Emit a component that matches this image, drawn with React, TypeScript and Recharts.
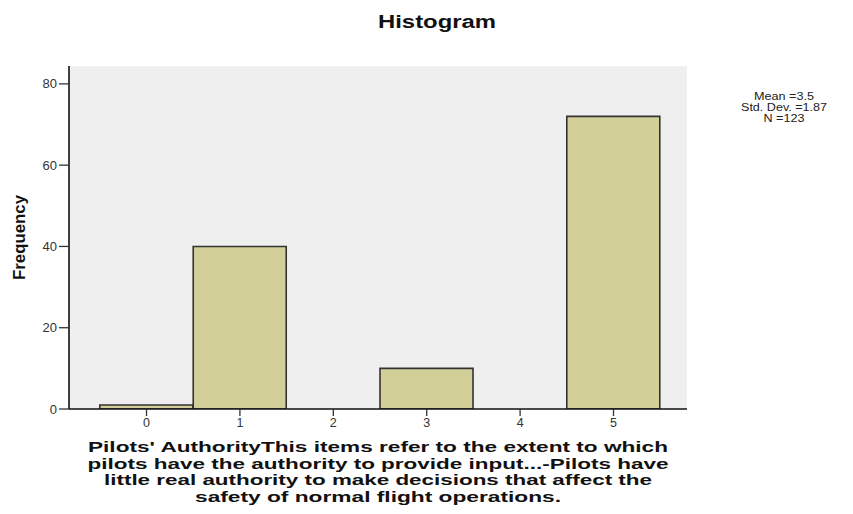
import React from "react";
import { ComposedChart, Bar, XAxis, YAxis, CartesianGrid } from "recharts";

const bins = [0, 1, 2, 3, 4, 5];
const frequencies = [1, 40, 0, 10, 0, 72];
const yTicks = [0, 20, 40, 60, 80];
const titleText = "Histogram";
const yLabelText = "Frequency";
const statsLines = ["Mean =3.5", "Std. Dev. =1.87", "N =123"];
const xLabelLines = [
  "Pilots' AuthorityThis items refer to the extent to which",
  "pilots have the authority to provide input...-Pilots have",
  "little real authority to make decisions that affect the",
  "safety of normal flight operations.",
];

const data = bins.map((b, i) => ({ bin: b, freq: frequencies[i] }));

const FONT = "'Liberation Sans', Arial, Helvetica, sans-serif";
const xLabelLengths = [580, 581, 548, 366];
const statsLengths = [60, 86, 41];

export default function App() {
  return (
    <div style={{ position: "absolute", left: 0, top: 0, width: 853, height: 514, background: "#fff", fontFamily: FONT }}>
      <ComposedChart
        width={853}
        height={514}
        data={data}
        margin={{ top: 66, right: 166, bottom: 0, left: 0 }}
        barCategoryGap={0}
        barGap={0}
      >
        <CartesianGrid fill="#efefef" horizontal={false} vertical={false} />
        <XAxis
          dataKey="bin"
          type="number"
          domain={[-0.83, 5.787]}
          allowDataOverflow
          ticks={bins}
          tickSize={7}
          height={105}
          axisLine={{ stroke: "#111", strokeWidth: 1.6 }}
          tickLine={{ stroke: "#333", strokeWidth: 1.3 }}
          tick={{ fill: "#333", fontSize: 12.5, fontFamily: FONT }}
        />
        <XAxis xAxisId="top" orientation="top" type="number" domain={[-0.83, 5.787]} height={0} tick={false} tickLine={false} axisLine={{ stroke: "#555", strokeWidth: 2 }} />
        <YAxis
          type="number"
          domain={[0, 84.4]}
          allowDataOverflow
          ticks={yTicks}
          tickSize={10}
          width={69}
          axisLine={{ stroke: "#111", strokeWidth: 1.6 }}
          tickLine={{ stroke: "#333", strokeWidth: 1.3 }}
          tick={{ fill: "#333", fontSize: 13, fontFamily: FONT }}
        />
        <YAxis yAxisId="right" orientation="right" type="number" domain={[0, 84.4]} width={0} tick={false} tickLine={false} axisLine={{ stroke: "#555", strokeWidth: 2 }} />
        <Bar dataKey="freq" fill="#d3cf98" stroke="#333" strokeWidth={1.6} isAnimationActive={false} />
      </ComposedChart>
      <svg width={853} height={514} style={{ position: "absolute", left: 0, top: 0, pointerEvents: "none" }}>
        <text x={437} y={28} textAnchor="middle" fontFamily={FONT} fontWeight="bold" fontSize={18} fill="#111" textLength={118} lengthAdjust="spacingAndGlyphs">
          {titleText}
        </text>
        <text
          x={0}
          y={0}
          transform="translate(25,237.5) rotate(-90)"
          textAnchor="middle"
          fontFamily={FONT}
          fontWeight="bold"
          fontSize={16}
          fill="#111"
          textLength={85}
          lengthAdjust="spacingAndGlyphs"
        >
          {yLabelText}
        </text>
        {statsLines.map((s, i) => (
          <text
            key={s}
            x={784}
            y={99.5 + i * 11}
            textAnchor="middle"
            fontFamily={FONT}
            fontSize={11}
            fill="#222"
            textLength={statsLengths[i]}
            lengthAdjust="spacingAndGlyphs"
          >
            {s}
          </text>
        ))}
        {xLabelLines.map((s, i) => (
          <text
            key={i}
            x={378}
            y={452 + i * 16.5}
            textAnchor="middle"
            fontFamily={FONT}
            fontWeight="bold"
            fontSize={15}
            fill="#111"
            textLength={xLabelLengths[i]}
            lengthAdjust="spacingAndGlyphs"
          >
            {s}
          </text>
        ))}
      </svg>
    </div>
  );
}
